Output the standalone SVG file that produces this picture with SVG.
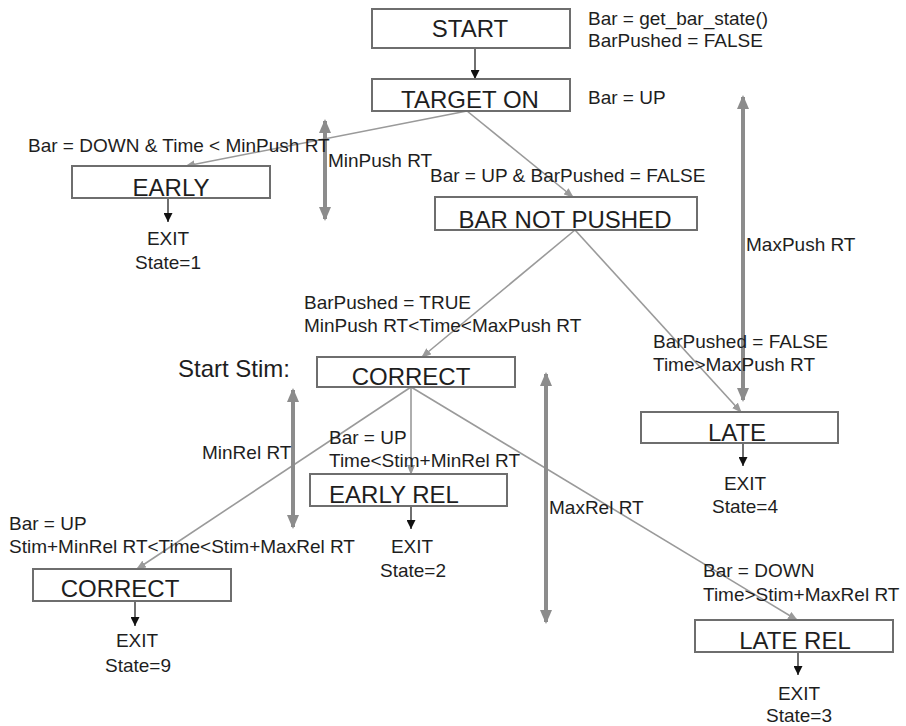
<svg xmlns="http://www.w3.org/2000/svg" width="906" height="726" viewBox="0 0 906 726">
<defs>
<style>
.box{fill:#fff;stroke:#6e6e6e;stroke-width:2}
.bt{font-family:"Liberation Sans",Arial,sans-serif;font-size:24px;fill:#1e1e1e;text-anchor:middle}
.lb{font-family:"Liberation Sans",Arial,sans-serif;font-size:19px;fill:#1e1e1e}
.ex{font-family:"Liberation Sans",Arial,sans-serif;font-size:19px;fill:#1e1e1e;text-anchor:middle}
.con{stroke:#9a9a9a;stroke-width:1.6;fill:none;marker-end:url(#ag)}
.exa{stroke:#222;stroke-width:1.3;fill:none;marker-end:url(#ab)}
.dbl{stroke:#8c8c8c;stroke-width:4;fill:none;marker-start:url(#dm);marker-end:url(#dm)}
</style>
<marker id="ag" markerWidth="10" markerHeight="8" refX="9" refY="4" orient="auto" markerUnits="userSpaceOnUse">
<path d="M0,0 L10,4 L0,8 Z" fill="#9a9a9a"/>
</marker>
<marker id="ab" markerWidth="9" markerHeight="9" refX="9" refY="4.5" orient="auto" markerUnits="userSpaceOnUse">
<path d="M0,0 L9,4.5 L0,9 Z" fill="#111"/>
</marker>
<marker id="dm" markerWidth="14" markerHeight="12" refX="12" refY="6" orient="auto-start-reverse" markerUnits="userSpaceOnUse">
<path d="M0,0 L14,6 L0,12 Z" fill="#8c8c8c"/>
</marker>
</defs>
<rect width="906" height="726" fill="#fff"/>

<g id="connectors">
<line class="exa" x1="475" y1="48" x2="475" y2="79"/>
<line class="con" x1="467" y1="111" x2="186" y2="166"/>
<line class="con" x1="467" y1="111" x2="573" y2="197"/>
<line class="con" x1="575" y1="230" x2="422" y2="357"/>
<line class="con" x1="575" y1="230" x2="741" y2="412"/>
<line class="con" x1="411" y1="387" x2="137" y2="569"/>
<line class="con" x1="411" y1="387" x2="411" y2="474"/>
<line class="con" x1="411" y1="387" x2="797" y2="620"/>
<line class="exa" x1="168" y1="198" x2="168" y2="222"/>
<line class="exa" x1="743" y1="443" x2="743" y2="466"/>
<line class="exa" x1="411" y1="506" x2="411" y2="529"/>
<line class="exa" x1="135" y1="601" x2="135" y2="626"/>
<line class="exa" x1="798" y1="652" x2="798" y2="675"/>
<line class="dbl" x1="325" y1="121" x2="325" y2="219"/>
<line class="dbl" x1="743" y1="97" x2="743" y2="400"/>
<line class="dbl" x1="293" y1="390" x2="293" y2="527"/>
<line class="dbl" x1="546" y1="374" x2="546" y2="622"/>
</g>

<g id="start"><rect class="box" x="372" y="9" width="198" height="39"/><text class="bt" x="470" y="37">START</text></g>
<g id="target-on"><rect class="box" x="372" y="79" width="198" height="32"/><text class="bt" x="470" y="108">TARGET ON</text></g>
<g id="early"><rect class="box" x="72" y="166" width="198" height="32"/><text class="bt" x="171" y="196">EARLY</text></g>
<g id="bar-not-pushed"><rect class="box" x="435" y="197" width="262" height="33"/><text class="bt" x="565" y="228">BAR NOT PUSHED</text></g>
<g id="correct"><rect class="box" x="317" y="357" width="198" height="30"/><text class="bt" x="411" y="385">CORRECT</text></g>
<g id="late"><rect class="box" x="641" y="412" width="197" height="31"/><text class="bt" x="737" y="441">LATE</text></g>
<g id="early-rel"><rect class="box" x="310" y="474" width="197" height="32"/><text class="bt" x="394" y="503">EARLY REL</text></g>
<g id="correct-final"><rect class="box" x="33" y="569" width="198" height="32"/><text class="bt" x="120" y="597">CORRECT</text></g>
<g id="late-rel"><rect class="box" x="695" y="620" width="198" height="32"/><text class="bt" x="795" y="649">LATE REL</text></g>

<g id="exit-1"><text class="ex" x="168" y="245">EXIT</text><text class="ex" x="168" y="269">State=1</text></g>
<g id="exit-4"><text class="ex" x="745" y="490">EXIT</text><text class="ex" x="745" y="513">State=4</text></g>
<g id="exit-2"><text class="ex" x="412" y="553">EXIT</text><text class="ex" x="413" y="577">State=2</text></g>
<g id="exit-9"><text class="ex" x="137" y="647">EXIT</text><text class="ex" x="138" y="672">State=9</text></g>
<g id="exit-3"><text class="ex" x="799" y="700">EXIT</text><text class="ex" x="799" y="722">State=3</text></g>

<g id="labels">
<text class="lb" x="588" y="25">Bar = get_bar_state()</text>
<text class="lb" x="588" y="47">BarPushed = FALSE</text>
<text class="lb" x="588" y="104">Bar = UP</text>
<text class="lb" x="28" y="152">Bar = DOWN &amp; Time &lt; MinPush RT</text>
<text class="lb" x="328" y="167">MinPush RT</text>
<text class="lb" x="430" y="182">Bar = UP &amp; BarPushed = FALSE</text>
<text class="lb" x="746" y="251">MaxPush RT</text>
<text class="lb" x="304" y="309">BarPushed = TRUE</text>
<text class="lb" x="304" y="332">MinPush RT&lt;Time&lt;MaxPush RT</text>
<text class="lb" x="653" y="348">BarPushed = FALSE</text>
<text class="lb" x="653" y="371">Time&gt;MaxPush RT</text>
<text class="bt" x="178" y="377" style="text-anchor:start">Start Stim:</text>
<text class="lb" x="202" y="459">MinRel RT</text>
<text class="lb" x="329" y="444">Bar = UP</text>
<text class="lb" x="329" y="467">Time&lt;Stim+MinRel RT</text>
<text class="lb" x="549" y="514">MaxRel RT</text>
<text class="lb" x="9" y="530">Bar = UP</text>
<text class="lb" x="9" y="553">Stim+MinRel RT&lt;Time&lt;Stim+MaxRel RT</text>
<text class="lb" x="703" y="577">Bar = DOWN</text>
<text class="lb" x="703" y="601">Time&gt;Stim+MaxRel RT</text>
</g>
</svg>
